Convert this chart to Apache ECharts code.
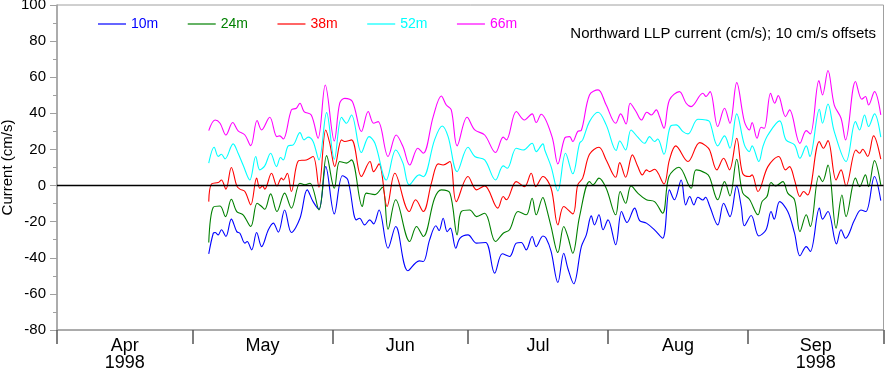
<!DOCTYPE html>
<html>
<head>
<meta charset="utf-8">
<script src="https://cdn.jsdelivr.net/npm/echarts@6/dist/echarts.min.js"></script>
<style>
html,body{margin:0;padding:0;background:#fff;}
#chart{width:885px;height:372px;}
</style>
</head>
<body>
<div id="chart"></div>
<script>
// x values are days since 1 Apr 1998
var monthTicks = [0, 30, 61, 91, 122, 153, 183];
var monthLabelPos = [15, 45.5, 76, 106.5, 137.5, 168];
var monthLabels = ['Apr\n1998', 'May', 'Jun', 'Jul', 'Aug', 'Sep\n1998'];
var seriesNames = ['10m', '24m', '38m', '52m', '66m'];
var seriesColors = ['#0000ff', '#008000', '#ff0000', '#00ffff', '#ff00ff'];

var days66 = [33.6,35.0,36.1,37.4,38.9,40.1,41.6,42.9,44.3,45.3,47.1,48.7,49.3,50.1,51.9,53.0,53.8,54.7,56.3,57.8,59.4,61.4,62.6,63.7,65.4,67.4,68.9,
  70.1,71.1,73.3,75.1,76.6,78.1,79.9,81.1,83.3,85.1,86.2,87.3,88.6,90.8,92.5,94.7,97.1,98.8,99.5,101.7,103.5,105.2,106.1,107.2,
  109.6,110.9,112.4,113.5,114.2,115.3,116.1,117.9,119.8,121.6,123.7,124.8,126,126.9,128.2,129.4,130.6,131.6,132.7,133.4,134.4,135.6,137.8,139.3,140.4,143,143.7,
  144.6,146.3,147.8,149,150.5,152.2,153.3,153.9,155,155.9,156.6,158,158.9,159.7,161.3,162.2,164.5,165.9,166.8,168.7,169.5,170.7,172.1,173.6,174.6,176.8,178.2,179,179.7,181,182.4];
var cm66 = [30.4,36.3,34.5,28.0,34.9,30.3,28,22.1,36,30.8,37.8,27.1,27.5,25.8,41.9,42.8,45.6,41,39.1,26.2,55.7,24.7,45.6,48.3,46.5,29.9,41,
  34.5,35.4,16.1,28,21.6,11.4,20.7,17.9,38.2,49.6,44.6,41.9,22,37.8,30.8,28,18.3,26.8,25.3,41,36.3,39.7,34.9,39.5,
  27.1,12,26.2,27.1,24.4,30,30.6,50.2,53,44.6,34.5,39.7,34.1,45.6,41,36.3,40.6,39.1,41.9,38.2,31.7,47.4,52,45.6,43.7,51.1,49.3,
  52,32.7,42.8,34.5,57,35.4,30.8,34.9,26.2,32.3,31.7,51.1,45.6,49.8,38.2,41.9,23.4,30.4,28.6,58.1,50.2,63.7,44.6,37.3,25.3,57.6,47.8,49.3,44.6,52,39.1];

var days52 = [33.6,34.8,35.7,36.4,37.2,39,40.1,41.2,42.7,44,44.9,46,47.3,48.6,49.5,50.1,51.2,52.3,53.8,54.7,55.6,56.7,58,59.7,61.4,63,64.1,65.2,67.4,69.1,
  70.4,72.9,75,76.6,78,80.2,81.1,83.6,85.3,86.6,88.6,91,92.5,94.7,97.1,98.8,99.7,101.7,103.2,105.2,106.1,107.6,
  108,109.4,110.9,112.6,114.2,115.7,116.4,117.9,119.8,121.6,123.8,124.6,125.9,127.1,128.6,130.1,131.2,132.3,133,134.4,135.8,137.1,138.6,139.7,141.9,143.7,
  144.5,146.3,147.8,149,150.5,152.2,153.3,153.9,155.4,156.3,157.4,160,161.4,163.3,164.5,165.9,166.7,168.8,169.5,170.7,172.1,174.7,176.8,177.7,178.8,179.7,181,182.4];
var cm52 = [12.4,21.2,16.1,17.3,14.8,23.1,17.9,11.4,3.1,16.1,8.7,10.9,17.9,10.5,15.5,14.2,22,22.5,29.3,25.3,26.8,24.4,14.2,40.4,14.6,37.8,34.5,39.1,18.3,27.1,
  23.4,3.1,19.7,12.4,0.4,5.9,4.9,25.3,33,27.1,7.7,21.2,16.1,14.2,3.1,10.9,9.6,20.7,19.7,23.4,18.8,23.1,
  19.7,10.5,-3,17.9,6.5,23.4,25.3,35.4,40.6,33.6,19.4,24.7,19.7,30.8,26.8,23.4,27.1,24.4,25.8,17.3,32.7,33.6,29.9,28.6,36.7,36.3,
  35.4,22,27.5,20.7,39.7,22.5,18.8,22,13.3,21.6,28,35.8,25.3,22.5,15.1,22,16.1,42.3,34.5,45.2,29.9,13.3,35.4,30.8,39.1,32.7,39.7,26.8];

var days38 = [33.6,34.2,35.7,36.4,37.4,38.6,39.8,40.5,41.6,42.9,44.2,44.9,45.5,46,47.5,48.7,49.7,50.1,51,51.9,53.5,55.2,56.7,58,59.5,60.4,61.5,63,63.7,65.2,67.4,69.3,
  70.1,71.3,73.1,74.8,78,79.4,81.1,82.9,84.4,85.5,87,88.4,91,92.9,94.7,97.6,98.8,99.5,101.7,103.5,105,106,107.6,
  109.4,110.9,112.2,114.2,115.3,116.4,117.9,120,121.6,123.7,124.6,125.9,127.4,128.6,129.6,130.5,131.2,132.3,134.4,135.6,137,139.7,142.3,143.7,
  144.5,146.1,147.6,148.9,150.5,151.8,153.3,153.9,155.2,157.4,159.8,161.3,162.2,163.3,164.5,165.3,166.2,168.8,169.7,170.7,172.5,173.6,174.7,176.9,177.7,178.4,179.5,180.8,182.4];
var cm38 = [-8.9,0.9,1.7,3.1,-2,10,-0.2,-2,-3.3,-10.7,4.1,-1.5,-0.2,-2,6.8,-0.2,4.1,3.1,6.8,-3.3,13.8,14.2,16.1,-0.9,30.8,23.4,10.5,25.3,24.4,25.3,5,13.3,
  7.7,12,-11.6,6.8,-14.4,-7.9,-14.4,1.3,12,11.4,13.3,-8.9,5,-2.4,-0.2,-12.5,-6.1,-7.9,2.2,-0.6,6.8,-0.6,5,
  -1.5,-21.8,-11.6,-15.7,0.4,4.1,17.3,21.2,14.2,4.6,12.7,4.6,17,10.5,5.9,8.7,7.7,9,0.9,14.2,22,13.3,23.8,22,
  19.7,8.7,15.1,8.7,26.2,6.8,5,5.9,-3.3,10.5,16.1,8.7,10.5,3.1,-6.1,-3.3,-5.2,24.4,20.7,24.9,3.1,8.7,-0.2,19.7,17.9,20.1,16.1,27.5,14.6];

var days24 = [33.6,34.6,36.1,37.3,38.6,39.8,41.2,42.9,44.3,45.3,46,47.3,48.7,50.4,51.9,53.8,54.9,56,58,59.7,61.4,62.6,64.1,65.2,67.6,68.5,
  70.4,72.05,73.3,75,78.1,79.6,81.1,83.6,85.1,87,88.6,89.5,91.4,92.9,94.7,97.1,98.8,100.2,102.1,103.9,105.2,106.1,107.6,
  108,109.4,110.9,112.2,113.1,114.2,115.7,117.9,118.7,120,121.6,123.7,124.7,125.9,127.1,128.6,130.5,132.3,134.1,135.5,137.7,140.4,141.5,143.7,
  144.5,146.3,147.8,149,150.5,151.8,153.3,155.2,156.1,157.2,158.1,159.1,160.7,161.8,163.3,164.5,165.9,166.8,168.7,169.5,170.7,172.5,173.8,174.7,176.8,177.7,179,179.7,181,182.4];
var cm24 = [-31.5,-12,-11.3,-17.2,-7.6,-14.4,-16.2,-22.7,-9.8,-11.6,-13.1,-4.6,-14.4,-4.2,-12.5,1.3,0.4,1.3,-13.5,16.6,-1.5,13.3,12.4,14.2,-11.6,-4.2,
  -5,-0.9,-24.2,-7.9,-31,-22.7,-28.2,-7,-2.4,-4.2,-27.3,-14.4,-13.5,-17.2,-15.3,-31,-26.4,-24.5,-14.4,-16.2,-7,-16.2,-6.6,
  -8.9,-22.7,-37.1,-22.7,-28.2,-37.5,-17.2,2.2,0.4,4.1,-1.5,-16.2,-3.3,-9.8,-0.2,-4.2,-7.9,-8.9,-15.3,5,10.1,-1.5,8.7,6.8,
  4.6,-7.9,2.2,-5.7,14.6,-3.9,-7.6,-16.2,-8.9,-6.1,1.7,-0.2,2.2,-4.2,-7.9,-25.5,-16.2,-22.7,5.4,2.2,11.4,-23.6,-5.2,-17.2,4.1,-0.6,5.9,-0.6,13.8,0.4];

var days10 = [33.6,34.6,35.0,35.7,36.4,37.4,38.6,39.8,40.5,41.6,42.1,43.1,44.2,45.3,46.8,47.9,49,50.4,51.9,53.8,55.4,56.7,58,59.5,61.4,63.2,64.4,66.3,67,68.1,69.25,
  70.1,71.3,73.3,75,77.7,80.2,81.1,82.5,83.9,84.6,85.5,86.4,87.1,88.3,89.2,91,92.9,94.9,96.9,98.6,100.2,101.7,102.8,103.9,105.2,106.1,107.6,
  108.3,109.4,110.9,112.2,113.1,114.4,116.1,117.2,118.3,119,120,120.9,122,123.7,125,126.2,127.9,129,130.5,132.3,134.1,135.6,136.7,138.2,139.2,140.1,141,141.9,143,143.6,
  144.5,146.3,147.6,149,150.5,151.5,152.2,153.7,155.4,157,158.1,158.8,160,161.8,163.3,164.5,165.9,166.8,168.8,169.5,170.7,172.6,173.6,174.6,176.6,178,179.1,181,182.4];
var cm10 = [-37.8,-26.4,-26,-27.3,-24.5,-28.2,-18.6,-25.5,-26.4,-31.9,-31,-35.6,-26,-33.8,-24.5,-20.8,-25.8,-13.5,-26,-18.1,-2.4,-8.9,-13.1,10.5,-15.7,5.4,3.1,-19,-18.1,-21.8,-19,
  -21.2,-13.5,-34.7,-22.7,-47.2,-41.7,-42.1,-30.1,-22.3,-24.9,-18.1,-25.5,-23.6,-34.7,-29.2,-27.3,-31.9,-31.5,-48.5,-37.8,-39.3,-31.9,-31.5,-35.6,-28.2,-33.8,-27.9,
  -29.2,-36.5,-53.7,-37.5,-45.8,-54.4,-33.8,-27.3,-16.8,-21.8,-16.2,-24.5,-19,-32.8,-14.4,-20.5,-12.5,-19.4,-20.8,-24.5,-29.2,-2.4,-7.9,3.1,-10.7,-6.1,-10.7,-6.5,-8,-6.5,
  -11.3,-21.8,-9.8,-17.2,-0.2,-11.6,-22.3,-16.6,-27.9,-24.5,-14.4,-18.6,-8.9,-14.4,-26.4,-38.9,-33.8,-36.5,-12.5,-18.6,-14.4,-32.3,-24.5,-29.2,-19,-13.5,-14.4,5,-8.3];

var allDays = [days10, days24, days38, days52, days66];
var allVals = [cm10, cm24, cm38, cm52, cm66];

var FONT = '"Liberation Sans", Arial, Helvetica, sans-serif';

function pairs(d, v) { return d.map(function (x, i) { return [x, v[i]]; }); }

var series = seriesNames.map(function (name, k) {
  var s = {
    name: name,
    type: 'line',
    data: pairs(allDays[k], allVals[k]),
    symbol: 'none',
    smooth: 0.35,
    lineStyle: { color: seriesColors[k], width: 1.1 },
    itemStyle: { color: seriesColors[k] },
    animation: false,
    silent: true
  };
  if (k === seriesNames.length - 1) {
    s.markLine = {
      silent: true,
      symbol: 'none',
      label: { show: false },
      lineStyle: { color: '#000', type: 'solid', width: 1.3 },
      data: [{ yAxis: 0 }],
      animation: false
    };
  }
  return s;
});

var chart = echarts.init(document.getElementById('chart'), null, { renderer: 'canvas' });
chart.setOption({
  animation: false,
  backgroundColor: '#fff',
  title: {
    text: 'Northward LLP current (cm/s); 10 cm/s offsets',
    right: 9, top: 26, padding: 0,
    textStyle: { fontFamily: FONT, fontSize: 15, fontWeight: 'normal', color: '#000' }
  },
  legend: {
    left: 98, top: 17, padding: 0,
    icon: 'rect',
    itemWidth: 28, itemHeight: 1.2, itemGap: 29.5,
    textStyle: { fontFamily: FONT, fontSize: 14, lineHeight: 14 },
    data: seriesNames.map(function (n, k) {
      return { name: n, textStyle: { color: seriesColors[k] } };
    }),
    selectedMode: false
  },
  grid: {
    left: 57, right: 1.5, top: 5, bottom: 42,
    outerBoundsMode: 'none',
    show: true, borderColor: '#a0a0a0', borderWidth: 1, backgroundColor: 'transparent',
    containLabel: false
  },
  xAxis: {
    type: 'value', min: 0, max: 183,
    axisLine: { show: true, onZero: false, lineStyle: { color: '#a0a0a0', width: 1.5 } },
    axisTick: { show: true, inside: false, length: 14, customValues: monthTicks, lineStyle: { color: '#555', width: 1.5 } },
    axisLabel: {
      customValues: monthLabelPos,
      formatter: function (v) {
        var i = monthLabelPos.indexOf(v);
        return i >= 0 ? monthLabels[i] : '';
      },
      fontFamily: FONT, fontSize: 18, lineHeight: 17, color: '#000', margin: 8
    },
    splitLine: { show: false }
  },
  yAxis: {
    type: 'value', min: -80, max: 100, interval: 20,
    name: 'Current (cm/s)', nameLocation: 'middle', nameGap: 42, nameRotate: 90,
    nameMoveOverlap: false,
    nameTextStyle: { fontFamily: FONT, fontSize: 15, color: '#000' },
    axisLine: { show: true, lineStyle: { color: '#a0a0a0', width: 1.5 } },
    axisTick: { show: true, inside: false, length: 7, lineStyle: { color: '#a0a0a0', width: 1 } },
    minorTick: { show: true, splitNumber: 2, length: 4, lineStyle: { color: '#a0a0a0', width: 1 } },
    axisLabel: { fontFamily: FONT, fontSize: 15, color: '#000', margin: 11 },
    splitLine: { show: false }
  },
  series: series
});
</script>
</body>
</html>
